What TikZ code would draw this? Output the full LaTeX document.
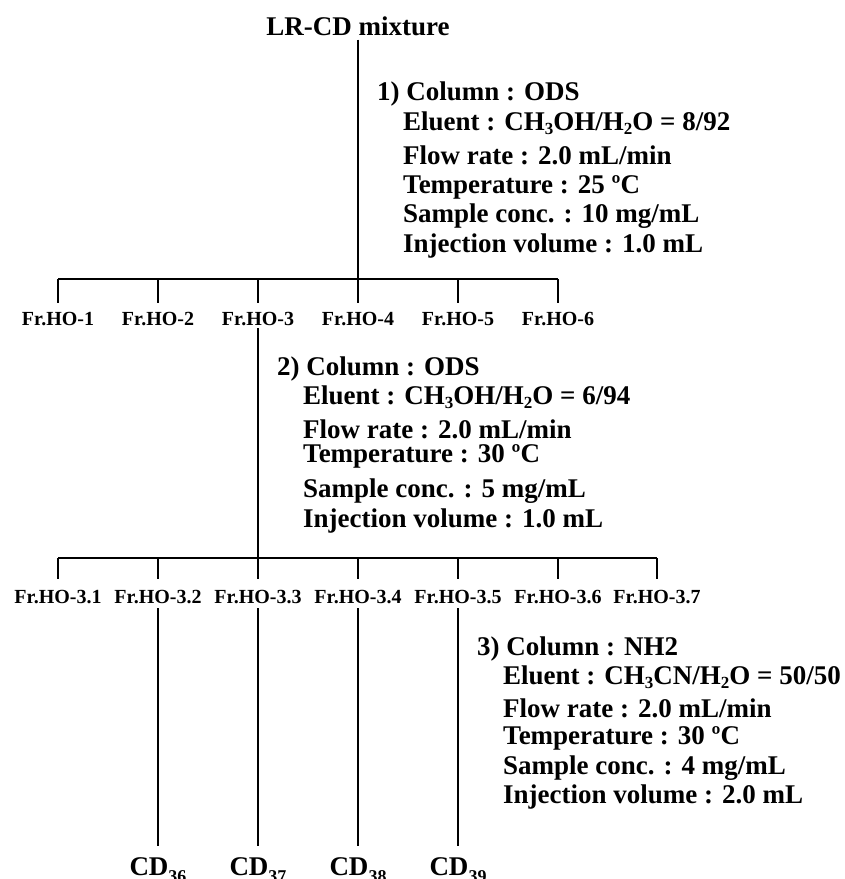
\documentclass[tikz,border=0pt]{standalone}
\usepackage{fontspec}
\setmainfont{Liberation Serif}
\newcommand\sbs[1]{\raisebox{-4pt}{\fontsize{17}{17}\selectfont #1}}
\newcommand\cdsub[1]{\raisebox{-7pt}{\fontsize{18}{18}\selectfont #1}}
\tikzset{
  big/.style={font=\fontsize{27}{30}\selectfont\bfseries, inner sep=0pt},
  lab/.style={font=\fontsize{20}{22}\selectfont\bfseries, inner sep=0pt, anchor=base},
  info/.style={big, anchor=base west},
  bar/.style={line width=2pt},
  stem/.style={line width=1.5pt},
}
\begin{document}
\begin{tikzpicture}[x=1pt,y=-1pt]
\useasboundingbox (0,0) rectangle (845,879);

% root
\node[big,anchor=base] (top) at (358,35) {LR-CD mixture};
\coordinate (b1l) at (58,279);
\coordinate (b1r) at (558,279);
\draw[bar] (b1l) -- (b1r);
\draw[stem] ([yshift=-4pt]top.south) -- (top |- b1l);

% conditions 1
\node[info] (c1a) at (377,100) {1) Column : ODS};
\node[info] (c1b) at (403,130) {Eluent : CH\sbs{3}OH/H\sbs{2}O = 8/92};
\node[info] (c1c) at (403,164) {Flow rate : 2.0 mL/min};
\node[info] (c1d) at (403,193) {Temperature : 25 ºC};
\node[info] (c1e) at (403,222) {Sample conc. : 10 mg/mL};
\node[info] (c1f) at (403,252) {Injection volume : 1.0 mL};

% first fractions
\foreach \x/\n in {58/1,158/2,258/3,358/4,458/5,558/6}{
  \node[lab] (f\n) at (\x,325) {Fr.HO-\n};
  \draw[stem] (b1l -| f\n) -- ([yshift=9pt]f\n.north);
}

% second stage
\coordinate (b2l) at (58,558);
\coordinate (b2r) at (657,558);
\draw[bar] (b2l) -- (b2r);
\draw[stem] ([yshift=-3pt]f3.south) -- (f3 |- b2l);

\node[info] (c2a) at (277,375) {2) Column : ODS};
\node[info] (c2b) at (303,404) {Eluent : CH\sbs{3}OH/H\sbs{2}O = 6/94};
\node[info] (c2c) at (303,438) {Flow rate : 2.0 mL/min};
\node[info] (c2d) at (303,462) {Temperature : 30 ºC};
\node[info] (c2e) at (303,497) {Sample conc. : 5 mg/mL};
\node[info] (c2f) at (303,527) {Injection volume : 1.0 mL};

\foreach \x/\n in {58/1,158/2,258/3,358/4,458/5,558/6,657/7}{
  \node[lab] (g\n) at (\x,603) {Fr.HO-3.\n};
  \draw[stem] (b2l -| g\n) -- ([yshift=10.5pt]g\n.north);
}

% third stage
\node[info] (c3a) at (477,655) {3) Column : NH2};
\node[info] (c3b) at (503,684) {Eluent : CH\sbs{3}CN/H\sbs{2}O = 50/50};
\node[info] (c3c) at (503,717) {Flow rate : 2.0 mL/min};
\node[info] (c3d) at (503,744) {Temperature : 30 ºC};
\node[info] (c3e) at (503,774) {Sample conc. : 4 mg/mL};
\node[info] (c3f) at (503,803) {Injection volume : 2.0 mL};

\foreach \n/\c in {2/36,3/37,4/38,5/39}{
  \node[big,anchor=base] (cd\c) at (g\n |- 0,875) {CD\cdsub{\c}};
  \draw[stem] ([yshift=-5pt]g\n.south) -- ([yshift=10.5pt]cd\c.north);
}
\end{tikzpicture}
\end{document}
